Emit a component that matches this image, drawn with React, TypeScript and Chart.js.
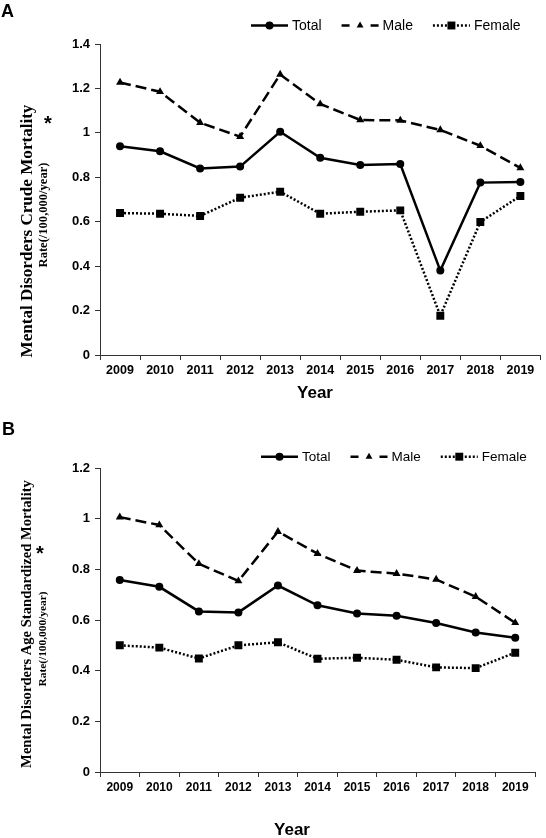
import React, { useEffect, useRef } from 'react';
import { Chart, registerables } from 'chart.js';

Chart.register(...registerables);

// ---------- data ----------
const years = ['2009', '2010', '2011', '2012', '2013', '2014', '2015', '2016', '2017', '2018', '2019'];
const seriesLabels = ['Total', 'Male', 'Female'];

const crudeTotal = [0.94, 0.917, 0.84, 0.848, 1.005, 0.888, 0.855, 0.86, 0.38, 0.776, 0.779];
const crudeMale = [1.227, 1.185, 1.046, 0.983, 1.263, 1.13, 1.058, 1.056, 1.013, 0.942, 0.842];
const crudeFemale = [0.639, 0.636, 0.626, 0.708, 0.735, 0.636, 0.645, 0.651, 0.177, 0.599, 0.716];

const asrTotal = [0.758, 0.731, 0.634, 0.63, 0.736, 0.658, 0.626, 0.617, 0.588, 0.551, 0.53];
const asrMale = [1.006, 0.975, 0.822, 0.754, 0.949, 0.862, 0.795, 0.783, 0.76, 0.692, 0.589];
const asrFemale = [0.5, 0.491, 0.448, 0.5, 0.512, 0.447, 0.451, 0.443, 0.413, 0.41, 0.471];

const yMaxA = 1.4;
const yMaxB = 1.2;
const yStep = 0.2;

const titleA = ['Mental Disorders Crude Mortality', 'Rate(/100,000/year)'];
const titleB = ['Mental Disorders Age Standardized Mortality', 'Rate(/100,000/year)'];
const xTitle = 'Year';

// ---------- styles ----------
const SANS = "'Liberation Sans', Arial, sans-serif";
const SERIF = "'Liberation Serif', 'Times New Roman', serif";
const AXIS = '#333';

const seriesStyles = [
  { dash: [] as number[], point: 'circle', radius: 4 },
  { dash: [11, 5], point: 'triangle', radius: 4.6 },
  { dash: [2, 2], point: 'rect', radius: 5.6 },
];

type Layout = {
  height: number;
  top: number;
  bottom: number;
  right: number;
  panel: string;
  panelX: number;
  panelY: number;
  panelSize: number;
  legendX: number;
  legendY: number;
  legendFont: number;
  title: string[];
  t1: { x: number; y: number; len: number };
  t2: { x: number; y: number; len: number };
  star: { x: number; y: number };
  yearX: number;
  yearY: number;
  xTickSize: number;
  yTickSize: number;
  yMax: number;
};

function drawMarker(ctx: CanvasRenderingContext2D, style: string, x: number, y: number, r: number) {
  ctx.beginPath();
  if (style === 'circle') {
    ctx.arc(x, y, r, 0, Math.PI * 2);
  } else if (style === 'triangle') {
    for (let i = 0; i < 3; i++) {
      const a = (i * 2 * Math.PI) / 3;
      const px = x + Math.sin(a) * r;
      const py = y - Math.cos(a) * r;
      if (i === 0) ctx.moveTo(px, py);
      else ctx.lineTo(px, py);
    }
    ctx.closePath();
  } else {
    const s = Math.SQRT1_2 * r;
    ctx.rect(x - s, y - s, 2 * s, 2 * s);
  }
  ctx.fill();
}

function fitFont(ctx: CanvasRenderingContext2D, text: string, family: string, len: number) {
  ctx.font = `bold 20px ${family}`;
  const w = ctx.measureText(text).width;
  const size = (20 * len) / w;
  ctx.font = `bold ${size}px ${family}`;
}

function makeDecor(L: Layout) {
  return {
    id: 'decor' + L.panel,
    afterDraw(chart: any) {
      const ctx: CanvasRenderingContext2D = chart.ctx;
      ctx.save();
      ctx.fillStyle = '#000';
      ctx.strokeStyle = '#000';

      // panel letter
      ctx.font = `bold ${L.panelSize}px ${SANS}`;
      ctx.textAlign = 'left';
      ctx.textBaseline = 'alphabetic';
      ctx.fillText(L.panel, L.panelX, L.panelY);

      // legend
      ctx.font = `${L.legendFont}px ${SANS}`;
      ctx.textBaseline = 'middle';
      let x = L.legendX;
      const y = L.legendY;
      const lineLen = 37;
      seriesLabels.forEach((lab, i) => {
        const st = seriesStyles[i];
        ctx.lineWidth = 2.5;
        ctx.lineCap = 'butt';
        ctx.beginPath();
        if (i === 1) {
          ctx.setLineDash([]);
          ctx.moveTo(x, y);
          ctx.lineTo(x + 8, y);
          ctx.moveTo(x + lineLen - 8, y);
          ctx.lineTo(x + lineLen, y);
        } else {
          ctx.setLineDash(st.dash);
          ctx.moveTo(x, y);
          ctx.lineTo(x + lineLen, y);
        }
        ctx.stroke();
        ctx.setLineDash([]);
        drawMarker(ctx, st.point, x + lineLen / 2, y, i === 1 ? 4 : st.radius);
        x += lineLen + 4;
        ctx.fillText(lab, x, y + 0.5);
        x += ctx.measureText(lab).width + 20;
      });

      // y-axis title (rotated, serif bold)
      ctx.textAlign = 'center';
      ctx.textBaseline = 'middle';
      const lines = [L.t1, L.t2];
      L.title.forEach((t, i) => {
        const p = lines[i];
        ctx.save();
        fitFont(ctx, t, SERIF, p.len);
        ctx.translate(p.x, p.y);
        ctx.rotate(-Math.PI / 2);
        ctx.fillText(t, 0, 0);
        ctx.restore();
      });
      ctx.font = `bold 20px ${SANS}`;
      ctx.fillText('*', L.star.x, L.star.y + 4);

      // x-axis title
      ctx.font = `bold 17px ${SANS}`;
      ctx.fillText(xTitle, L.yearX, L.yearY);
      ctx.restore();
    },
  };
}

function Panel({ L, data }: { L: Layout; data: number[][] }) {
  const ref = useRef<HTMLCanvasElement>(null);
  useEffect(() => {
    if (!ref.current) return;
    const chart = new Chart(ref.current, {
      type: 'line',
      data: {
        labels: years,
        datasets: seriesLabels.map((lab, i) => ({
          label: lab,
          data: data[i],
          borderColor: '#000',
          backgroundColor: '#000',
          pointBackgroundColor: '#000',
          pointBorderColor: '#000',
          pointBorderWidth: 0,
          borderWidth: 2.5,
          borderDash: seriesStyles[i].dash,
          pointStyle: seriesStyles[i].point as any,
          pointRadius: seriesStyles[i].radius,
          tension: 0,
          fill: false,
        })),
      },
      options: {
        animation: false,
        responsive: false,
        devicePixelRatio: 1,
        layout: { padding: { top: L.top, right: L.right, left: 0, bottom: 0 } },
        plugins: { legend: { display: false }, tooltip: { enabled: false } },
        scales: {
          x: {
            type: 'category',
            offset: true,
            grid: { offset: true, drawOnChartArea: false, drawTicks: true, tickLength: 5, color: AXIS, lineWidth: 1 },
            border: { color: AXIS, width: 1 },
            ticks: { color: '#000', padding: 3, maxRotation: 0, autoSkip: false, font: { family: SANS, size: L.xTickSize, weight: 'bold' } },
            afterFit: (s: any) => { s.height = L.height - L.bottom; },
          },
          y: {
            min: 0,
            max: L.yMax,
            grid: { drawOnChartArea: false, drawTicks: true, tickLength: 5, color: AXIS, lineWidth: 1 },
            border: { color: AXIS, width: 1 },
            ticks: {
              stepSize: yStep,
              padding: 5,
              color: '#000',
              font: { family: SANS, size: L.yTickSize, weight: 'bold' },
              callback: (v: any) => String(+Number(v).toFixed(1)),
            },
            afterFit: (s: any) => { s.width = 100; },
          },
        },
      },
      plugins: [makeDecor(L)],
    });
    return () => chart.destroy();
  }, []);
  return <canvas ref={ref} width={546} height={L.height} style={{ display: 'block', width: 546, height: L.height }} />;
}

const layoutA: Layout = {
  height: 410,
  top: 44,
  bottom: 355,
  right: 1,
  panel: 'A',
  panelX: 1,
  panelY: 17,
  panelSize: 18,
  legendX: 251,
  legendY: 25.5,
  legendFont: 14,
  title: titleA,
  t1: { x: 28, y: 231, len: 253 },
  t2: { x: 44, y: 215, len: 105 },
  star: { x: 48, y: 120 },
  yearX: 315,
  yearY: 393,
  xTickSize: 12.5,
  yTickSize: 13,
  yMax: yMaxA,
};

const layoutB: Layout = {
  height: 428,
  top: 58,
  bottom: 362,
  right: 11,
  panel: 'B',
  panelX: 2,
  panelY: 25,
  panelSize: 18,
  legendX: 261,
  legendY: 46.7,
  legendFont: 13.5,
  title: titleB,
  t1: { x: 27, y: 214, len: 288 },
  t2: { x: 43, y: 229, len: 95 },
  star: { x: 40, y: 140 },
  yearX: 292,
  yearY: 420,
  xTickSize: 12,
  yTickSize: 13,
  yMax: yMaxB,
};

export default function App() {
  return (
    <div style={{ position: 'absolute', left: 0, top: 0, width: 546, height: 838, background: '#fff' }}>
      <Panel L={layoutA} data={[crudeTotal, crudeMale, crudeFemale]} />
      <Panel L={layoutB} data={[asrTotal, asrMale, asrFemale]} />
    </div>
  );
}
